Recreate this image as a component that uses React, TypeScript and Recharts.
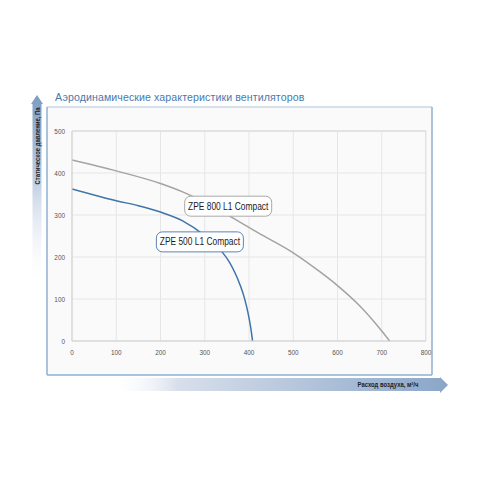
import React from "react";
import {
  LineChart,
  Line,
  XAxis,
  YAxis,
  CartesianGrid,
  ReferenceDot,
} from "recharts";

// Fan performance curves: airflow (m³/h) vs static pressure (Pa)
const zpe800Flow = [0, 100, 200, 250, 300, 360, 420, 500, 560, 600, 650, 700, 718];
const zpe800Pressure = [431, 405, 375, 355, 330, 295, 258, 210, 165, 132, 84, 24, 0];

const zpe500Flow = [0, 100, 150, 200, 250, 300, 320, 340, 355, 368, 380, 390, 398, 404, 408];
const zpe500Pressure = [362, 334, 322, 307, 286, 251, 233, 211, 189, 163, 133, 101, 66, 31, 0];

const xTicks = [0, 100, 200, 300, 400, 500, 600, 700, 800];
const yTicks = [0, 100, 200, 300, 400, 500];

const seriesNames = ["ZPE 800 L1 Compact", "ZPE 500 L1 Compact"];
const labelAnchors = [
  { x: 353, y: 321 },
  { x: 289, y: 236 },
];

const title = "Аэродинамические характеристики вентиляторов";
const yTitle = "Статическое давление, Па";
const xTitle = "Расход воздуха, м³/ч";

const zpe800 = zpe800Flow.map((x, i) => ({ x, p: zpe800Pressure[i] }));
const zpe500 = zpe500Flow.map((x, i) => ({ x, p: zpe500Pressure[i] }));

const narrow = "'Liberation Sans Narrow', 'Liberation Sans', Arial, sans-serif";

const GRAY = "#a3a3a3";
const BLUE = "#3f74a9";

function makeTag(text: string, stroke: string) {
  return (props: any) => {
    const { cx, cy } = props;
    const w = 87;
    const h = 20;
    return (
      <g>
        <rect
          x={cx - w / 2}
          y={cy - h / 2}
          width={w}
          height={h}
          rx={6}
          ry={6}
          fill="#ffffff"
          stroke={stroke}
          strokeWidth={1}
        />
        <text
          transform={`translate(${cx},${cy + 3.5}) scale(0.8,1)`}
          textAnchor="middle"
          fontFamily={narrow}
          fontSize={10.5}
          fill="#1a1a1a"
        >
          {text}
        </text>
      </g>
    );
  };
}

function XTick(props: any) {
  const { x, y, payload } = props;
  return (
    <text
      transform={`translate(${x},${y + 7}) scale(0.8,1)`}
      textAnchor="middle"
      fontFamily={narrow}
      fontSize={8}
      fill="#555"
    >
      {payload.value}
    </text>
  );
}

function YTick(props: any) {
  const { x, y, payload } = props;
  return (
    <text
      transform={`translate(${x},${y + 2.5}) scale(0.8,1)`}
      textAnchor="end"
      fontFamily={narrow}
      fontSize={8}
      fill="#555"
    >
      {payload.value}
    </text>
  );
}

function Backdrop() {
  return (
    <svg
      width={480}
      height={480}
      style={{ position: "absolute", left: 0, top: 0 }}
    >
      <defs>
        <linearGradient id="yArrow" x1="0" y1="0" x2="0" y2="1">
          <stop offset="0" stopColor="#7b9cc3" />
          <stop offset="0.45" stopColor="#c2d0e3" />
          <stop offset="1" stopColor="#ffffff" stopOpacity="0" />
        </linearGradient>
        <linearGradient id="xArrow" x1="0" y1="0" x2="1" y2="0">
          <stop offset="0" stopColor="#ffffff" stopOpacity="0" />
          <stop offset="0.2" stopColor="#d8dfeb" />
          <stop offset="1" stopColor="#8aa6c8" />
        </linearGradient>
      </defs>
      {/* frame */}
      <rect x={47} y={107} width={385} height={268} fill="#fafafa" />
      <line x1={47} y1={107} x2={432} y2={107} stroke="#c9d7e5" strokeWidth={1.5} />
      <line x1={47} y1={107} x2={47} y2={375} stroke="#8fb0d3" strokeWidth={1.5} />
      <line x1={432} y1={107} x2={432} y2={375} stroke="#8fb0d3" strokeWidth={1.5} />
      <line x1={47} y1={375} x2={432} y2={375} stroke="#8fb0d3" strokeWidth={1.5} />
      {/* vertical axis arrow */}
      <path d="M31 104 L37 95 L43 104 L41.5 104 L41.5 290 L32.5 290 L32.5 104 Z" fill="url(#yArrow)" />
      {/* horizontal axis arrow */}
      <path d="M110 378 L440 378 L440 377 L448 385 L440 393 L440 391 L110 391 Z" fill="url(#xArrow)" />
      <text x={55} y={101} fontFamily="'Liberation Sans', Arial, sans-serif" fontSize={10.6} letterSpacing={0.1} fill="#4a79ad">
        {title}
      </text>
      <text
        transform="translate(40,146) rotate(-90) scale(0.82,1)"
        textAnchor="middle"
        fontFamily={narrow}
        fontSize={7.2}
        fontWeight="bold"
        fill="#222"
      >
        {yTitle}
      </text>
      <text
        transform="translate(388,387) scale(0.82,1)"
        textAnchor="middle"
        fontFamily={narrow}
        fontSize={7.2}
        fontWeight="bold"
        fill="#222"
      >
        {xTitle}
      </text>
    </svg>
  );
}

export default function App() {
  return (
    <div style={{ position: "absolute", left: 0, top: 0, width: 480, height: 480, background: "#fff" }}>
      <Backdrop />
      <div style={{ position: "absolute", left: 0, top: 0 }}>
        <LineChart
          width={480}
          height={480}
          margin={{ top: 131, right: 54, bottom: 119, left: 52 }}
        >
          <CartesianGrid stroke="#e6e6e6" strokeWidth={1} />
          <XAxis
            type="number"
            dataKey="x"
            domain={[0, 800]}
            ticks={xTicks}
            height={20}
            tickLine={false}
            tickSize={0}
            tickMargin={7}
            axisLine={{ stroke: "#cfcfcf" }}
            tick={<XTick />}
            allowDataOverflow
          />
          <YAxis
            type="number"
            domain={[0, 500]}
            ticks={yTicks}
            width={20}
            tickLine={false}
            tickSize={0}
            tickMargin={7}
            axisLine={{ stroke: "#cfcfcf" }}
            tick={<YTick />}
          />
          {/* plot area top / right border */}
          <Line
            data={[{ x: 0, p: 500 }, { x: 800, p: 500 }, { x: 800, p: 0 }]}
            dataKey="p"
            stroke="#d6d6d6"
            strokeWidth={1}
            dot={false}
            isAnimationActive={false}
            legendType="none"
          />
          <Line
            data={zpe800}
            dataKey="p"
            name={seriesNames[0]}
            type="monotone"
            stroke={GRAY}
            strokeWidth={1.5}
            dot={false}
            isAnimationActive={false}
          />
          <Line
            data={zpe500}
            dataKey="p"
            name={seriesNames[1]}
            type="monotone"
            stroke={BLUE}
            strokeWidth={1.5}
            dot={false}
            isAnimationActive={false}
          />
          <ReferenceDot
            x={labelAnchors[0].x}
            y={labelAnchors[0].y}
            shape={makeTag(seriesNames[0], "#a8a8a8")}
          />
          <ReferenceDot
            x={labelAnchors[1].x}
            y={labelAnchors[1].y}
            shape={makeTag(seriesNames[1], "#5a86b5")}
          />
        </LineChart>
      </div>
    </div>
  );
}
